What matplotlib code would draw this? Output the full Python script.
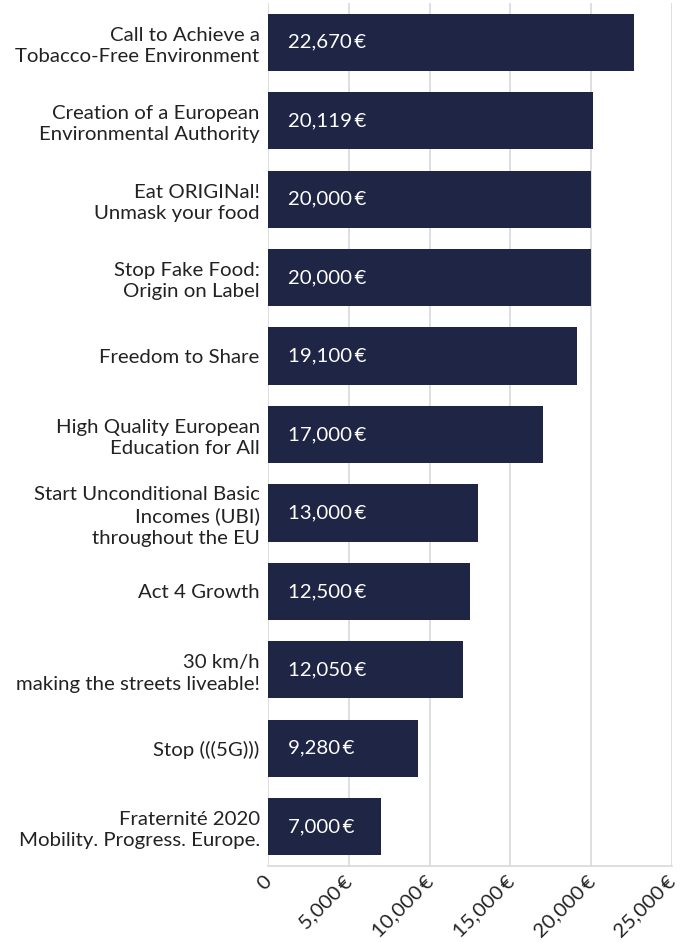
import numpy as np
from matplotlib import pyplot as plt

plt.rcParams['font.family'] = ['Lato', 'DejaVu Sans']

labels = [
    "Call to Achieve a\nTobacco-Free Environment",
    "Creation of a European\nEnvironmental Authority",
    "Eat ORIGINal!\nUnmask your food",
    "Stop Fake Food:\nOrigin on Label",
    "Freedom to Share",
    "High Quality European\nEducation for All",
    "Start Unconditional Basic\nIncomes (UBI)\nthroughout the EU",
    "Act 4 Growth",
    "30 km/h\nmaking the streets liveable!",
    "Stop (((5G)))",
    "Fraternité 2020\nMobility. Progress. Europe.",
]
amounts = [22670, 20119, 20000, 20000, 19100, 17000, 13000, 12500, 12050, 9280, 7000]
xticks = [0, 5000, 10000, 15000, 20000, 25000]
xtick_labels = ["0", "5,000\u2009€", "10,000\u2009€", "15,000\u2009€", "20,000\u2009€", "25,000\u2009€"]

bar_color = '#1e2545'
grid_color = '#d9d9d9'
text_color = '#222222'
fs = 14.7

fig = plt.figure(figsize=(6.93, 9.42), dpi=100)
ax = fig.add_axes([268 / 693, 76 / 942, 404 / 693, 863 / 942])

y = np.arange(len(labels))
ax.barh(y, amounts, height=0.73, color=bar_color, zorder=2)

for yi, v in zip(y, amounts):
    ax.annotate(f"{v:,}\u2009€", xy=(0, yi), xytext=(20, 0), textcoords='offset pixels',
                ha='left', va='center', color='white', fontsize=fs, zorder=3)

ax.set_ylim(len(labels) - 0.5, -0.5)
ax.set_xlim(0, 25000)
ax.set_yticks(y)
ax.set_yticklabels(labels, fontsize=fs, color=text_color, linespacing=1.3)

# x tick labels drawn by hand so they can sit a little left of the ticks
ax.set_xticks(xticks)
ax.set_xticklabels([])
for xt, lab in zip(xticks, xtick_labels):
    ax.annotate(lab, xy=(xt, 0), xycoords=ax.get_xaxis_transform(),
                xytext=(-5, -7), textcoords='offset pixels',
                ha='right', va='top', rotation=45, rotation_mode='anchor',
                fontsize=fs, color=text_color, annotation_clip=False)

ax.tick_params(axis='both', length=0)
ax.tick_params(axis='y', pad=6)
ax.grid(axis='x', color=grid_color, linewidth=1.2, zorder=0)
for side in ['top', 'right', 'left']:
    ax.spines[side].set_visible(False)
ax.spines['bottom'].set_color(grid_color)
ax.spines['bottom'].set_linewidth(1.2)

fig.savefig('out.png', dpi=100)
